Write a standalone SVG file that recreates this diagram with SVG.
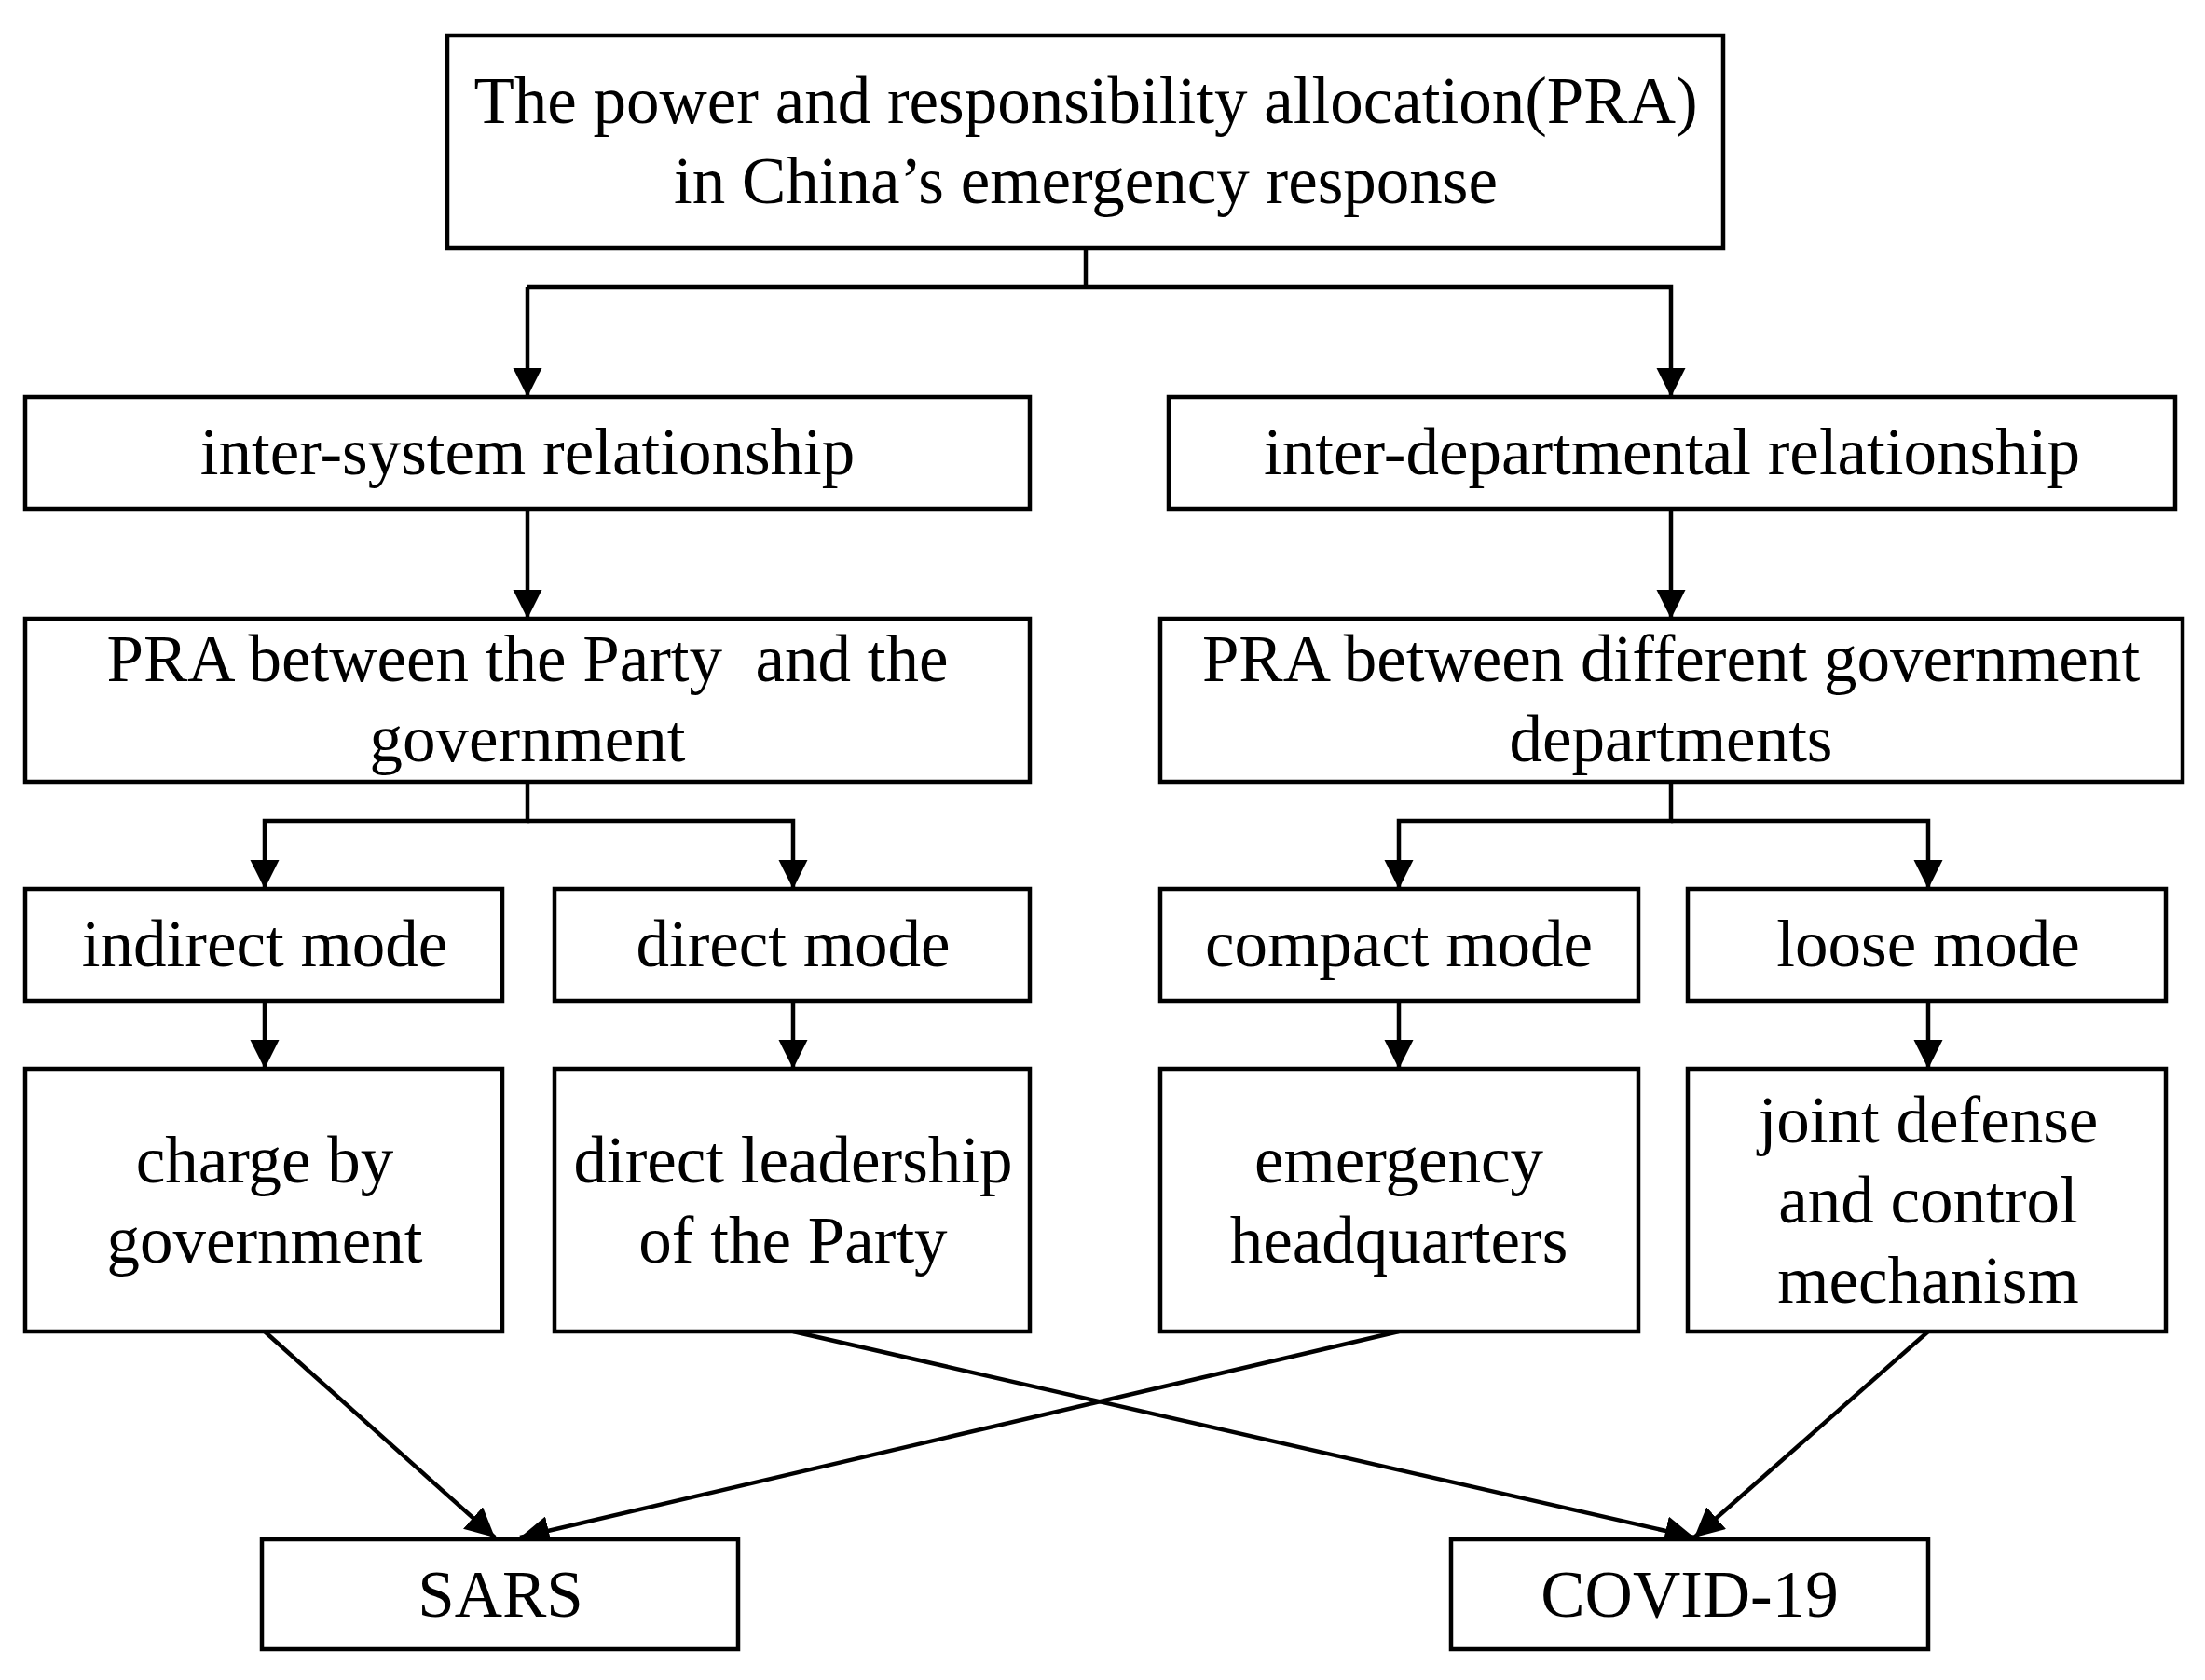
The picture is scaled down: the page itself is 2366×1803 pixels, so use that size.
<svg xmlns="http://www.w3.org/2000/svg" width="2366" height="1803" viewBox="0 0 2366 1803">
<style>
rect{fill:#fff;stroke:#000;stroke-width:4.5}
text{font-family:"Liberation Serif","Times New Roman",serif;font-size:71px;text-anchor:middle;fill:#000}
.c line,.c polyline{stroke:#000;stroke-width:4.5;fill:none}
</style>
<defs><marker id="a" viewBox="0 0 10 10" refX="10" refY="5" markerWidth="7" markerHeight="7" markerUnits="strokeWidth" orient="auto"><path d="M0,0L10,5L0,10z" fill="#000"/></marker></defs>
<rect x="0" y="0" width="2366" height="1803" style="stroke:none"/>
<g class="c">
<polyline points="1165,266 1165,308"/>
<polyline points="566,308 1793,308 1793,426" marker-end="url(#a)"/>
<line x1="566" y1="308" x2="566" y2="426" marker-end="url(#a)"/>
<line x1="566" y1="546" x2="566" y2="664" marker-end="url(#a)"/>
<line x1="1793" y1="546" x2="1793" y2="664" marker-end="url(#a)"/>
<polyline points="566,839 566,881 284,881 284,954" marker-end="url(#a)"/>
<polyline points="566,881 851,881 851,954" marker-end="url(#a)"/>
<polyline points="1793,839 1793,881 1501,881 1501,954" marker-end="url(#a)"/>
<polyline points="1793,881 2069,881 2069,954" marker-end="url(#a)"/>
<line x1="284" y1="1074" x2="284" y2="1147" marker-end="url(#a)"/>
<line x1="851" y1="1074" x2="851" y2="1147" marker-end="url(#a)"/>
<line x1="1501" y1="1074" x2="1501" y2="1147" marker-end="url(#a)"/>
<line x1="2069" y1="1074" x2="2069" y2="1147" marker-end="url(#a)"/>
<line x1="284" y1="1429" x2="531" y2="1650" marker-end="url(#a)"/>
<line x1="1501" y1="1429" x2="558" y2="1650" marker-end="url(#a)"/>
<line x1="851" y1="1429" x2="1818" y2="1650" marker-end="url(#a)"/>
<line x1="2069" y1="1429" x2="1818" y2="1650" marker-end="url(#a)"/>
</g>
<g id="top"><rect x="480" y="38" width="1369" height="228"/><text x="1165" y="132">The power and responsibility allocation(PRA)</text><text x="1165" y="218">in China’s emergency response</text></g>
<g id="intersys"><rect x="27" y="426" width="1078" height="120"/><text x="566" y="509">inter-system relationship</text></g>
<g id="interdep"><rect x="1254" y="426" width="1080" height="120"/><text x="1794" y="509">inter-departmental relationship</text></g>
<g id="praparty"><rect x="27" y="664" width="1078" height="175"/><text x="566" y="731" xml:space="preserve">PRA between the Party  and the</text><text x="566" y="817">government</text></g>
<g id="pradep"><rect x="1245" y="664" width="1097" height="175"/><text x="1793" y="731">PRA between different government</text><text x="1793" y="817">departments</text></g>
<g id="indirect"><rect x="27" y="954" width="512" height="120"/><text x="284" y="1037">indirect mode</text></g>
<g id="direct"><rect x="595" y="954" width="510" height="120"/><text x="851" y="1037">direct mode</text></g>
<g id="compact"><rect x="1245" y="954" width="513" height="120"/><text x="1501" y="1037">compact mode</text></g>
<g id="loose"><rect x="1811" y="954" width="513" height="120"/><text x="2069" y="1037">loose mode</text></g>
<g id="charge"><rect x="27" y="1147" width="512" height="282"/><text x="284" y="1269">charge by</text><text x="284" y="1355">government</text></g>
<g id="leader"><rect x="595" y="1147" width="510" height="282"/><text x="851" y="1269">direct leadership</text><text x="851" y="1355">of the Party</text></g>
<g id="hq"><rect x="1245" y="1147" width="513" height="282"/><text x="1501" y="1269">emergency</text><text x="1501" y="1355">headquarters</text></g>
<g id="joint"><rect x="1811" y="1147" width="513" height="282"/><text x="2069" y="1226">joint defense</text><text x="2069" y="1312">and control</text><text x="2069" y="1398">mechanism</text></g>
<g id="sars"><rect x="281" y="1652" width="511" height="118"/><text x="537" y="1735">SARS</text></g>
<g id="covid"><rect x="1557" y="1652" width="512" height="118"/><text x="1813" y="1735">COVID-19</text></g>
</svg>
